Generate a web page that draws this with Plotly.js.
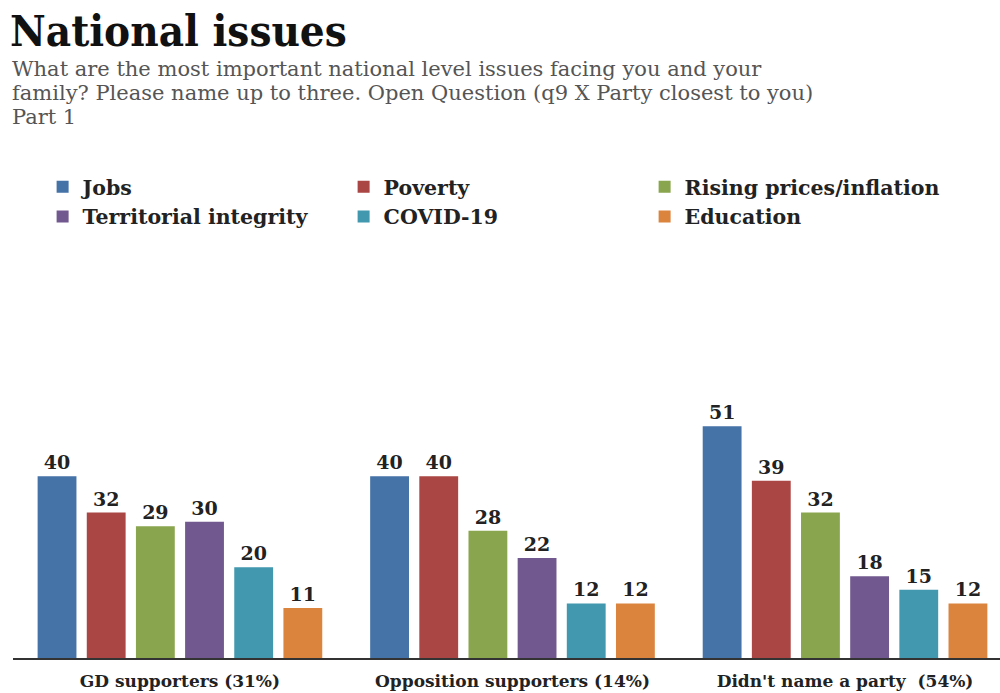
<!DOCTYPE html>
<html>
<head>
<meta charset="utf-8">
<script src="https://cdn.plot.ly/plotly-3.0.1.min.js"></script>
<style>html,body{margin:0;padding:0;background:#fff;}#chart{width:1000px;height:693px;}</style>
</head>
<body>
<div id="chart"></div>
<script>
const categories = ["GD supporters (31%)", "Opposition supporters (14%)", "Didn't name a party  (54%)"];
const seriesNames = ["Jobs", "Poverty", "Rising prices/inflation", "Territorial integrity", "COVID-19", "Education"];
const jobs = [40, 40, 51];
const poverty = [32, 40, 39];
const risingPrices = [29, 28, 32];
const territorial = [30, 22, 18];
const covid = [20, 12, 15];
const education = [11, 12, 12];
const seriesColors = ["#4572A7", "#AA4643", "#89A54E", "#71588F", "#4198AF", "#DB843D"];
const subtitleLines = [
  "What are the most important national level issues facing you and your",
  "family? Please name up to three. Open Question (q9 X Party closest to you)",
  "Part 1"
];

const seriesValues = [jobs, poverty, risingPrices, territorial, covid, education];
const serif = "DejaVu Serif, serif";

const traces = seriesValues.map((vals, i) => ({
  type: "bar",
  name: seriesNames[i],
  x: categories,
  y: vals,
  marker: { color: seriesColors[i] },
  text: vals.map(String),
  textposition: "outside",
  textfont: { family: serif, size: 19, color: "#222", weight: "bold" },
  cliponaxis: false,
  hoverinfo: "x+y+name"
}));

const plotTop = 240, plotBottom = 658;
const toPaper = (py) => (plotBottom - py) / (plotBottom - plotTop);

const annotations = subtitleLines.map((line, i) => ({
  text: line,
  xref: "paper", yref: "paper",
  x: 0, xshift: -3,
  y: toPaper(68.5 + i * 24.3),
  xanchor: "left", yanchor: "middle", align: "left",
  showarrow: false,
  font: { family: serif, size: 21, color: "#555" }
}));

const layout = {
  width: 1000,
  height: 693,
  margin: { l: 13, r: 0, t: plotTop, b: 693 - plotBottom },
  paper_bgcolor: "#fff",
  plot_bgcolor: "#fff",
  barmode: "group",
  bargap: 0.113,
  bargroupgap: 0.21,
  title: {
    text: "National issues",
    font: { family: "DejaVu Serif Condensed, DejaVu Serif, serif", size: 43.5, color: "#111", weight: "bold" },
    x: 0.01, xanchor: "left", xref: "container",
    y: 1 - 31 / 693, yanchor: "middle", yref: "container"
  },
  annotations: annotations,
  showlegend: true,
  legend: {
    orientation: "h",
    x: 0.03, xanchor: "left",
    y: 1 - 167 / 693, yanchor: "top", yref: "container",
    entrywidth: 256,
    traceorder: "normal",
    font: { family: serif, size: 20.5, color: "#222", weight: "bold" },
    bgcolor: "rgba(0,0,0,0)"
  },
  xaxis: {
    type: "category",
    range: [-0.502, 2.466],
    showline: true, linecolor: "#333", linewidth: 2,
    ticks: "", showgrid: false, zeroline: false,
    tickfont: { family: serif, size: 17, color: "#222", weight: "bold" },
    ticklabelstandoff: 7,
    fixedrange: true
  },
  yaxis: {
    range: [0, 92],
    visible: false,
    showgrid: false, zeroline: false,
    fixedrange: true
  }
};

Plotly.newPlot("chart", traces, layout, { displayModeBar: false });
</script>
</body>
</html>
